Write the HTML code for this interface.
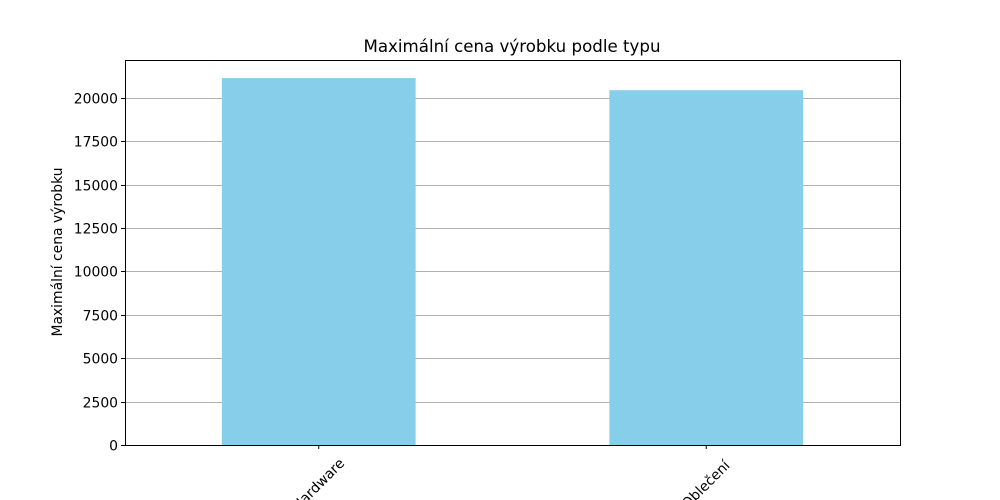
<!DOCTYPE html>
<html><head><meta charset="utf-8"><style>
body{margin:0;background:#fff}
svg{display:block;font-family:"DejaVu Sans","Liberation Sans",sans-serif}
</style></head><body>
<svg width="1000" height="500" viewBox="0 0 1000 500">
<rect width="1000" height="500" fill="#fff"/>
<g id="grid"></g>
<g id="bars"></g>
<rect x="125.5" y="60.5" width="775" height="385" fill="none" stroke="#000" stroke-width="1"/>
<g id="yticks"></g>
<g id="xticks"></g>
<text x="512" y="52" text-anchor="middle" font-size="16.67">Maximální cena výrobku podle typu</text>
<text transform="translate(62,252) rotate(-90)" text-anchor="middle" font-size="13.9">Maximální cena výrobku</text>
</svg>
<script>
const categories = ["Hardware", "Oblečení"];
const values = [21150, 20450];
const yTicks = [0, 2500, 5000, 7500, 10000, 12500, 15000, 17500, 20000];
const yMax = 22190;
const L=125,R=900,T=60,B=445;
const NS="http://www.w3.org/2000/svg";
function y(v){return B-(v/yMax)*(B-T);}
function x(i){return L+(i+0.5)*(R-L)/categories.length;}
const bw=0.5*(R-L)/categories.length;
function mk(tag,attrs,parent,text){const e=document.createElementNS(NS,tag);for(const k in attrs)e.setAttribute(k,attrs[k]);if(text!==undefined)e.textContent=text;document.getElementById(parent).appendChild(e);return e;}
yTicks.forEach(t=>{
  const yy=Math.round(y(t))+0.5;
  const g=mk('line',{x1:L,x2:R,y1:yy,y2:yy,stroke:'#b0b0b0','stroke-width':1},'grid');
  
  
  const tk=mk('line',{x1:L-4,x2:L,y1:yy,y2:yy,stroke:'#000'},'yticks');
  
  
  const lb=mk('text',{x:L-7,y:yy+5,'text-anchor':'end','font-size':13.9},'yticks',String(t));
  
  
});
categories.forEach((c,i)=>{
  const cx=x(i);
  const b=mk('rect',{x:cx-bw/2,y:y(values[i]),width:bw,height:B-y(values[i]),fill:'#87ceeb'},'bars');
  
  
  const tk=mk('line',{x1:cx,x2:cx,y1:B,y2:B+4,stroke:'#000'},'xticks');
  
  
  const lb=mk('text',{transform:`translate(${cx},${B+40}) rotate(-45)`,'text-anchor':'middle','dominant-baseline':'central','font-size':13.9},'xticks',c);
  
  
});
</script>
</body></html>
